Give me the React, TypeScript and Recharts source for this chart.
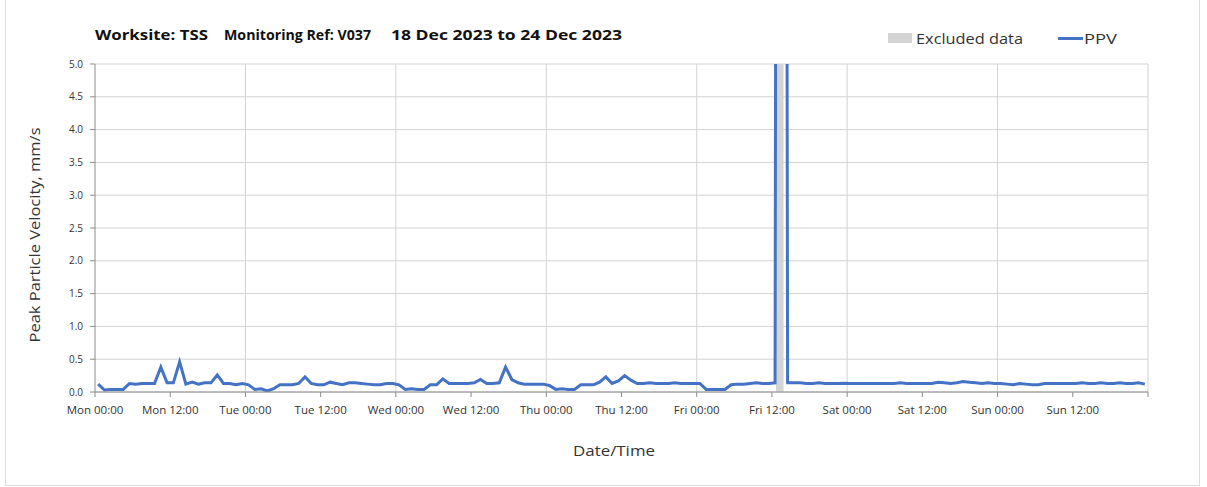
import React from 'react';
import { LineChart, Line, XAxis, YAxis, CartesianGrid, ReferenceArea, ReferenceLine } from 'recharts';

const tickLabels = [
  'Mon 00:00', 'Mon 12:00', 'Tue 00:00', 'Tue 12:00', 'Wed 00:00', 'Wed 12:00', 'Thu 00:00',
  'Thu 12:00', 'Fri 00:00', 'Fri 12:00', 'Sat 00:00', 'Sat 12:00', 'Sun 00:00', 'Sun 12:00',
];
const tickHours = [0, 12, 24, 36, 48, 60, 72, 84, 96, 108, 120, 132, 144, 156, 168];
const gridHours = [24, 48, 72, 96, 120, 144, 168];
const yTicks = [0, 0.5, 1, 1.5, 2, 2.5, 3, 3.5, 4, 4.5, 5];

// hourly PPV readings, first sample at Mon 00:30
const sampleOffsetHours = 0.5;
const ppv = [
  0.12, 0.03, 0.04, 0.04, 0.04, 0.13, 0.12, 0.13, 0.13, 0.13, 0.38, 0.14, 0.14, 0.46, 0.12, 0.15, 0.12, 0.14, 0.14, 0.26, 0.13, 0.13, 0.11, 0.13,
  0.11, 0.04, 0.05, 0.015, 0.05, 0.11, 0.11, 0.11, 0.13, 0.23, 0.13, 0.11, 0.11, 0.15, 0.13, 0.11, 0.14, 0.14, 0.13, 0.12, 0.11, 0.11, 0.13, 0.13,
  0.11, 0.04, 0.05, 0.04, 0.04, 0.11, 0.11, 0.2, 0.13, 0.13, 0.13, 0.13, 0.14, 0.19, 0.13, 0.13, 0.14, 0.38, 0.19, 0.14, 0.12, 0.12, 0.12, 0.12,
  0.1, 0.04, 0.05, 0.04, 0.04, 0.11, 0.11, 0.11, 0.15, 0.23, 0.13, 0.17, 0.25, 0.18, 0.13, 0.13, 0.14, 0.13, 0.13, 0.13, 0.14, 0.13, 0.13, 0.13,
  0.13, 0.04, 0.04, 0.04, 0.04, 0.11, 0.12, 0.12, 0.13, 0.14, 0.13, 0.13, 0.14, 60, 0.14, 0.14, 0.14, 0.13, 0.13, 0.14, 0.13, 0.13, 0.13, 0.135,
  0.13, 0.13, 0.13, 0.13, 0.13, 0.13, 0.13, 0.13, 0.14, 0.13, 0.13, 0.13, 0.13, 0.13, 0.15, 0.14, 0.13, 0.14, 0.16, 0.15, 0.14, 0.13, 0.14, 0.13,
  0.13, 0.12, 0.11, 0.13, 0.12, 0.11, 0.11, 0.13, 0.13, 0.13, 0.13, 0.13, 0.13, 0.14, 0.13, 0.13, 0.14, 0.13, 0.13, 0.14, 0.13, 0.13, 0.14, 0.12,
];
const excludedRange = [108.65, 109.85];

const data = ppv.map((v, i) => ({ t: i + sampleOffsetHours, ppv: v }));

const FONT = '"Open Sans", "DejaVu Sans", sans-serif';
const BLUE = '#4472C4';
const GREY_BAND = '#d4d4d4';

function xLabel(v: number) {
  const idx = tickHours.indexOf(v);
  return idx >= 0 && idx < tickLabels.length ? tickLabels[idx] : '';
}

export default function App() {
  return (
    <div
      style={{
        position: 'absolute',
        left: 5,
        top: -2,
        width: 1195,
        height: 488,
        border: '1px solid #dcdcdc',
        boxSizing: 'border-box',
        background: '#fff',
        fontFamily: FONT,
      }}
    >
      <div style={{ position: 'absolute', left: 0, top: 0 }}>
        <LineChart
          width={1190}
          height={480}
          data={data}
          margin={{ top: 65, right: 48, bottom: 57, left: 29 }}
          style={{ fontFamily: FONT }}
        >
          <CartesianGrid vertical={false} stroke="#d3d3d3" strokeWidth={1} />
          {gridHours.map((h) => (
            <ReferenceLine key={h} x={h} stroke="#d3d3d3" strokeWidth={1} />
          ))}
          <ReferenceArea
            x1={excludedRange[0]}
            x2={excludedRange[1]}
            y1={0}
            y2={5}
            fill={GREY_BAND}
            fillOpacity={1}
            stroke="none"
          />
          <XAxis
            dataKey="t"
            type="number"
            domain={[0, 168]}
            ticks={tickHours}
            interval={0}
            tickFormatter={xLabel}
            tickSize={5}
            tickMargin={9}
            height={30}
            stroke="#8c8c8c"
            tick={{ fill: '#333', fontSize: 11.5, fontFamily: FONT }}
          />
          <YAxis
            type="number"
            domain={[0, 5]}
            ticks={yTicks}
            allowDataOverflow
            interval={0}
            tickFormatter={(v: number) => v.toFixed(1)}
            width={60}
            tickSize={5}
            tickMargin={7}
            stroke="#8c8c8c"
            tick={{ fill: '#333', fontSize: 10, fontFamily: FONT }}
          />
          <Line
            type="linear"
            dataKey="ppv"
            stroke={BLUE}
            strokeWidth={3}
            dot={false}
            activeDot={false}
            isAnimationActive={false}
          />
        </LineChart>
      </div>
      <svg
        width={1207}
        height={487}
        style={{ position: 'absolute', left: -6, top: 1, pointerEvents: 'none' }}
      >
        <g fontFamily={FONT} fontWeight="bold" fontSize={15} fill="#111">
          <text x={95} y={40} textLength={113} lengthAdjust="spacingAndGlyphs">Worksite: TSS</text>
          <text x={224} y={40} textLength={147} lengthAdjust="spacingAndGlyphs">Monitoring Ref: V037</text>
          <text x={391} y={40} textLength={231} lengthAdjust="spacingAndGlyphs">18 Dec 2023 to 24 Dec 2023</text>
        </g>
        <rect x={888} y={33} width={24} height={10} fill={GREY_BAND} />
        <text x={916} y={44} fontFamily={FONT} fontSize={15} fill="#333" textLength={107} lengthAdjust="spacingAndGlyphs">Excluded data</text>
        <line x1={1058} x2={1083} y1={38.5} y2={38.5} stroke={BLUE} strokeWidth={3} />
        <text x={1084} y={44} fontFamily={FONT} fontSize={15} fill="#333" textLength={33} lengthAdjust="spacingAndGlyphs">PPV</text>
        <text
          x={40}
          y={235}
          transform="rotate(-90, 40, 235)"
          textAnchor="middle"
          fontFamily={FONT}
          fontSize={15}
          fill="#333"
          textLength={215}
          lengthAdjust="spacingAndGlyphs"
        >
          Peak Particle Velocity, mm/s
        </text>
        <text x={573} y={456} fontFamily={FONT} fontSize={15} fill="#333" textLength={82} lengthAdjust="spacingAndGlyphs">Date/Time</text>
      </svg>
    </div>
  );
}
